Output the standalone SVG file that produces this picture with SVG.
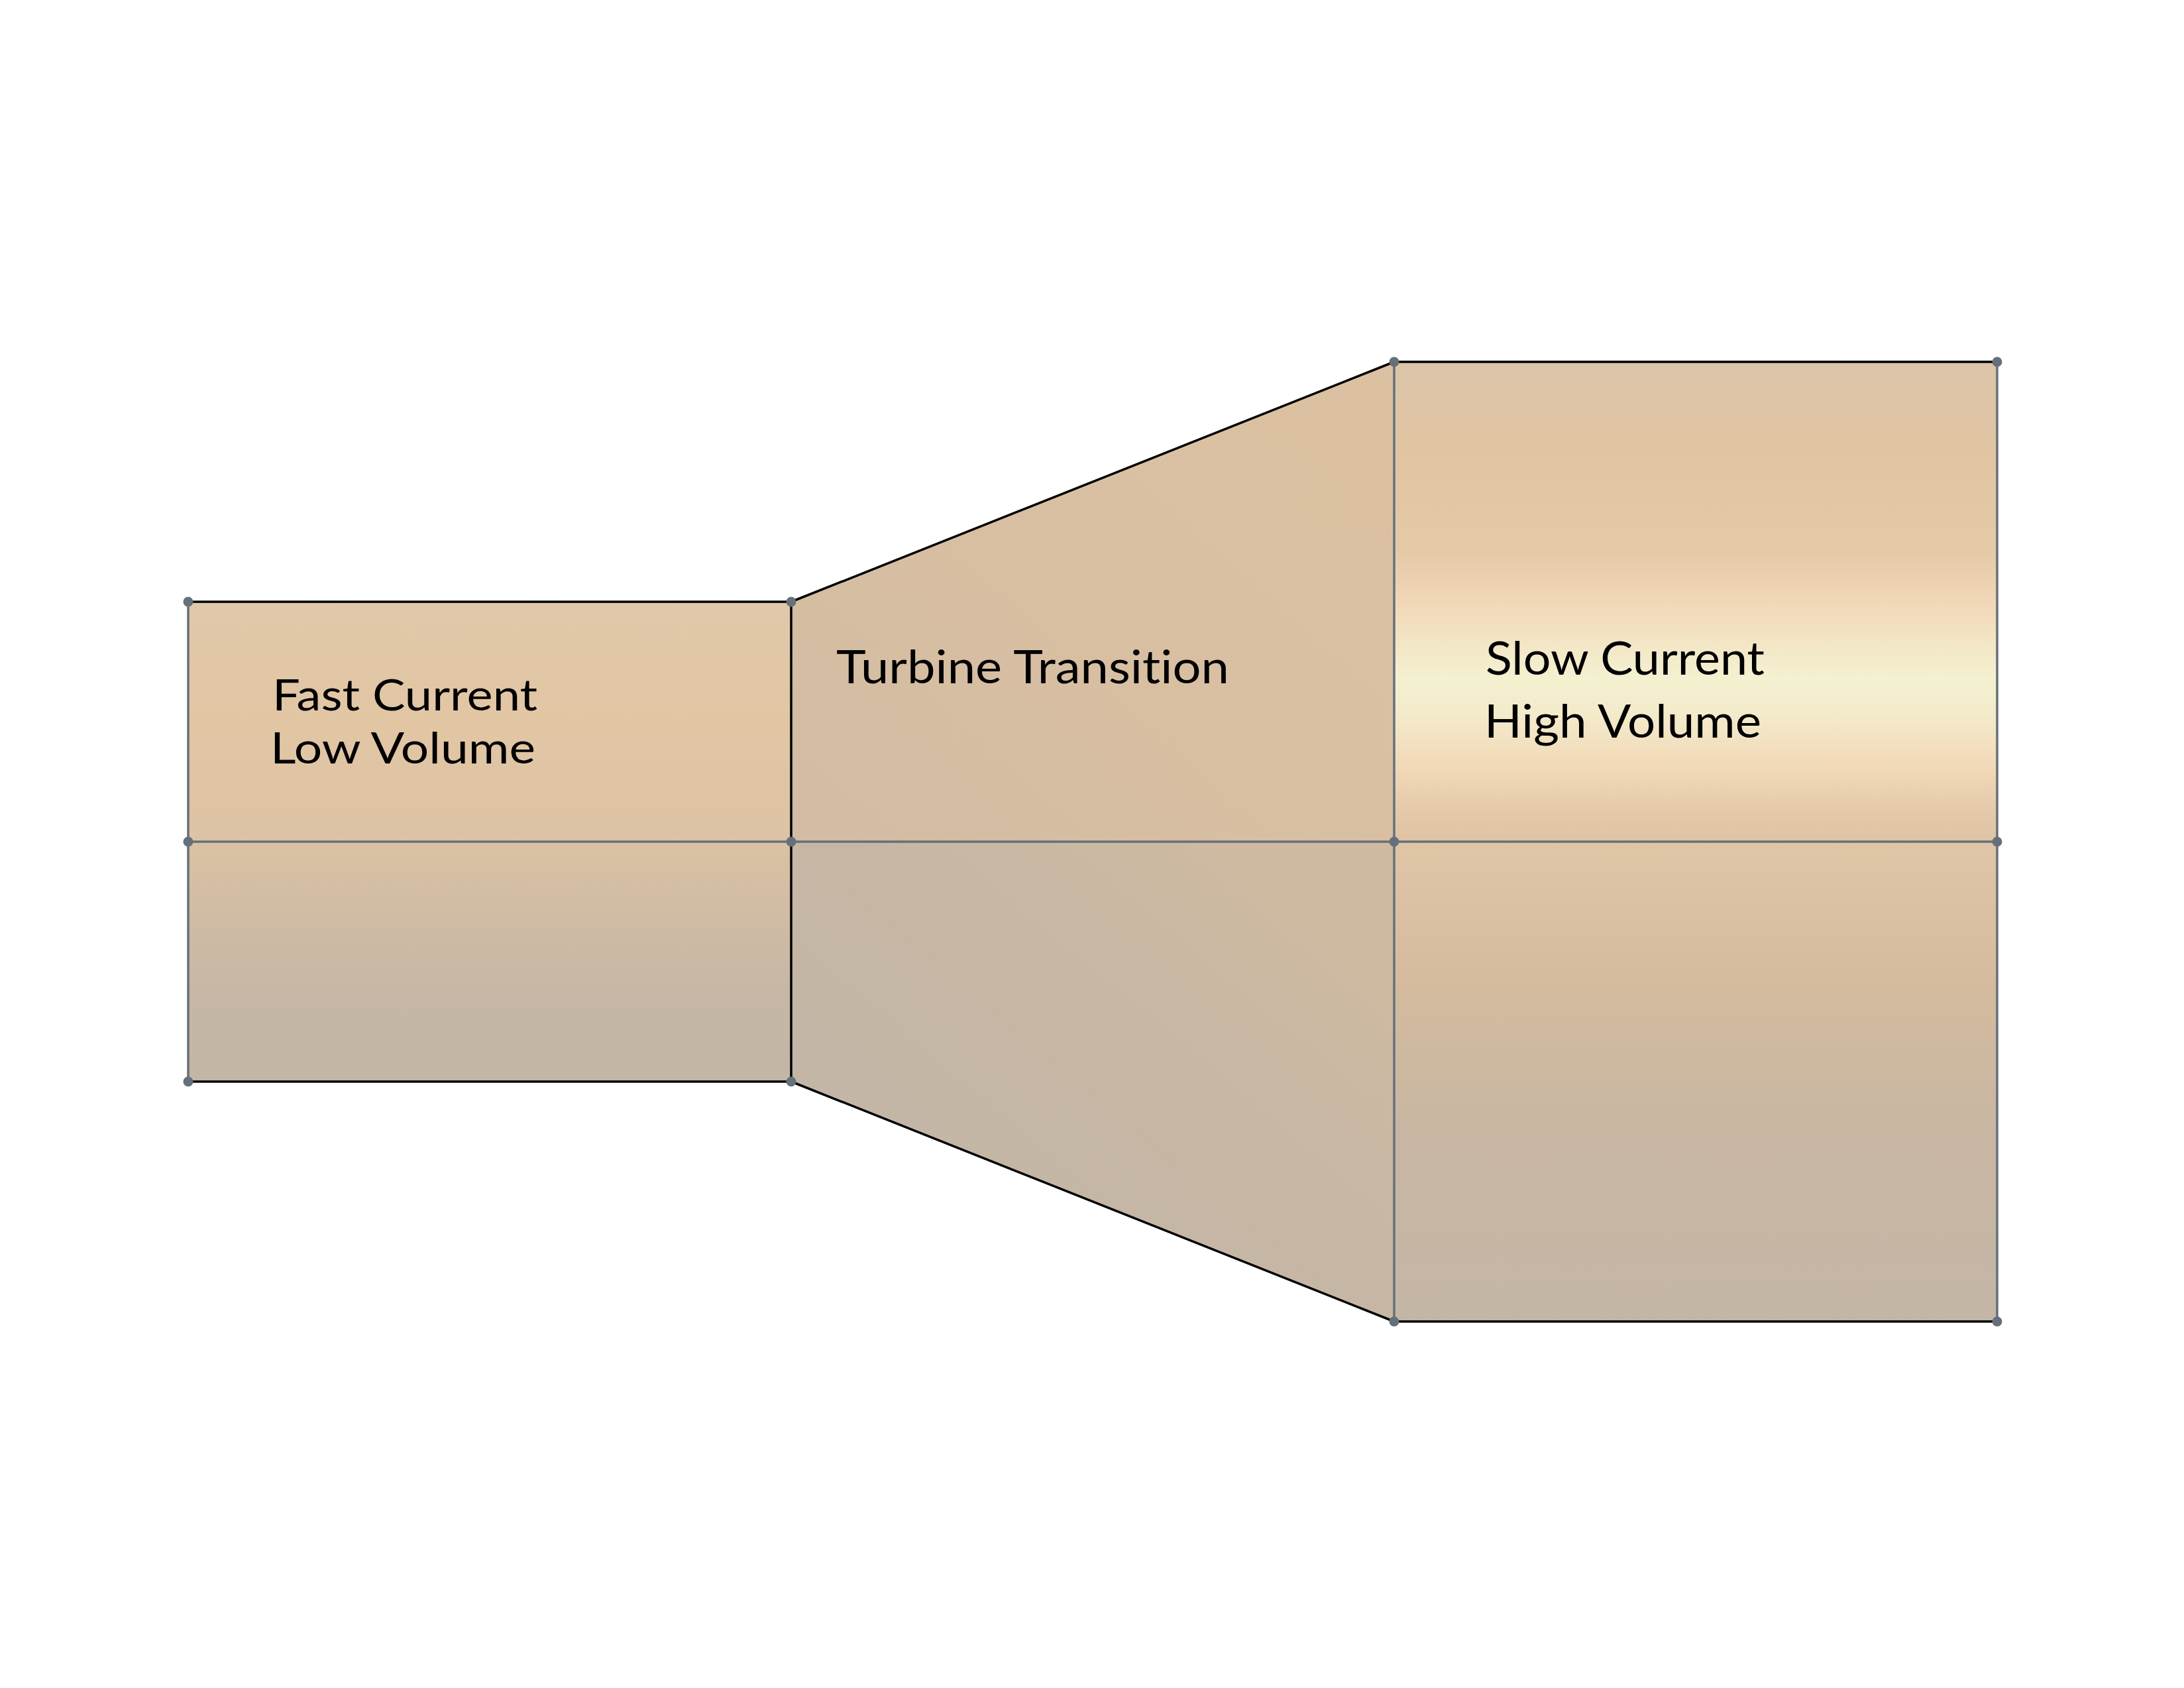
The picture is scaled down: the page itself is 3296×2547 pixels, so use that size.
<svg xmlns="http://www.w3.org/2000/svg" width="3296" height="2547" viewBox="0 0 3296 2547">
<style>
.edge{stroke:#000;stroke-width:3.5;fill:none;stroke-linecap:round}
.grid{stroke:#66707a;stroke-width:3.5;fill:none}
.dot{fill:#66707a}
.lbl{font-family:Lato,"Open Sans","Liberation Sans",sans-serif;font-size:70px;fill:#000;font-variant-ligatures:none}
.tight{font-size:65px}
</style>
<defs>
<linearGradient id="gLT" x1="0" y1="908" x2="0" y2="1270" gradientUnits="userSpaceOnUse">
<stop offset="0" stop-color="#e0c8aa"/><stop offset="0.5" stop-color="#e2c6a4"/><stop offset="1" stop-color="#dcc3a5"/>
</linearGradient>
<linearGradient id="gLB" x1="0" y1="1270" x2="0" y2="1632" gradientUnits="userSpaceOnUse">
<stop offset="0" stop-color="#dac1a3"/><stop offset="0.65" stop-color="#c5b6a5"/><stop offset="1" stop-color="#c4b6a6"/>
</linearGradient>
<linearGradient id="gMT" x1="1300" y1="1270" x2="1900" y2="600" gradientUnits="userSpaceOnUse">
<stop offset="0" stop-color="#d3bca3"/><stop offset="0.5" stop-color="#d8bfa2"/><stop offset="1" stop-color="#dbc1a2"/>
</linearGradient>
<linearGradient id="gMB" x1="1450" y1="1750" x2="1850" y2="1270" gradientUnits="userSpaceOnUse">
<stop offset="0" stop-color="#c4b6a6"/><stop offset="0.55" stop-color="#c7b7a4"/><stop offset="1" stop-color="#cfbaa1"/>
</linearGradient>
<linearGradient id="gRT" x1="0" y1="546" x2="0" y2="1270" gradientUnits="userSpaceOnUse">
<stop offset="0" stop-color="#dbc4a9"/><stop offset="0.2" stop-color="#e1c5a2"/><stop offset="0.4" stop-color="#e5caa8"/>
<stop offset="0.5" stop-color="#f1d7b7"/><stop offset="0.6" stop-color="#f3e8c8"/><stop offset="0.66" stop-color="#f4f1d0"/>
<stop offset="0.74" stop-color="#f3eaca"/><stop offset="0.84" stop-color="#f2d9b8"/><stop offset="0.95" stop-color="#e2c8a8"/>
<stop offset="1" stop-color="#dec4a5"/>
</linearGradient>
<linearGradient id="gRB" x1="0" y1="1270" x2="0" y2="1994" gradientUnits="userSpaceOnUse">
<stop offset="0" stop-color="#dfc6a7"/><stop offset="0.3" stop-color="#d4bb9e"/><stop offset="0.6" stop-color="#c8b6a2"/><stop offset="1" stop-color="#c4b6a6"/>
</linearGradient>
</defs>
<rect x="0" y="0" width="3296" height="2547" fill="#ffffff"/>
<g id="fast-current">
<rect x="284" y="908" width="910" height="362" fill="url(#gLT)"/>
<rect x="284" y="1270" width="910" height="362" fill="url(#gLB)"/>
<text class="lbl tight" x="411" y="1072" textLength="400" lengthAdjust="spacingAndGlyphs">Fast Current</text>
<text class="lbl tight" x="408" y="1152" textLength="400" lengthAdjust="spacingAndGlyphs">Low Volume</text>
</g>
<g id="turbine-transition">
<polygon points="1194,908 2104,546 2104,1270 1194,1270" fill="url(#gMT)"/>
<polygon points="1194,1270 2104,1270 2104,1994 1194,1632" fill="url(#gMB)"/>
<text class="lbl" x="1262" y="1031" textLength="593" lengthAdjust="spacingAndGlyphs">Turbine Transition</text>
</g>
<g id="slow-current">
<rect x="2104" y="546" width="910" height="724" fill="url(#gRT)"/>
<rect x="2104" y="1270" width="910" height="724" fill="url(#gRB)"/>
<text class="lbl" x="2242" y="1018" textLength="421" lengthAdjust="spacingAndGlyphs">Slow Current</text>
<text class="lbl" x="2240" y="1113" textLength="418" lengthAdjust="spacingAndGlyphs">High Volume</text>
</g>
<g id="connectors">
<line class="grid" x1="284" y1="908" x2="284" y2="1632"/>
<line class="grid" x1="284" y1="1270" x2="3014" y2="1270"/>
<line class="grid" x1="2104" y1="546" x2="2104" y2="1994"/>
<line class="grid" x1="3014" y1="546" x2="3014" y2="1994"/>
<line class="edge" x1="284" y1="908" x2="1194" y2="908"/>
<line class="edge" x1="284" y1="1632" x2="1194" y2="1632"/>
<line class="edge" x1="1194" y1="908" x2="1194" y2="1632"/>
<line class="edge" x1="1194" y1="908" x2="2104" y2="546"/>
<line class="edge" x1="1194" y1="1632" x2="2104" y2="1994"/>
<line class="edge" x1="2104" y1="546" x2="3014" y2="546"/>
<line class="edge" x1="2104" y1="1994" x2="3014" y2="1994"/>
<circle class="dot" cx="284" cy="908" r="7.5"/>
<circle class="dot" cx="284" cy="1270" r="7.5"/>
<circle class="dot" cx="284" cy="1632" r="7.5"/>
<circle class="dot" cx="1194" cy="908" r="7.5"/>
<circle class="dot" cx="1194" cy="1270" r="7.5"/>
<circle class="dot" cx="1194" cy="1632" r="7.5"/>
<circle class="dot" cx="2104" cy="546" r="7.5"/>
<circle class="dot" cx="2104" cy="1270" r="7.5"/>
<circle class="dot" cx="2104" cy="1994" r="7.5"/>
<circle class="dot" cx="3014" cy="546" r="7.5"/>
<circle class="dot" cx="3014" cy="1270" r="7.5"/>
<circle class="dot" cx="3014" cy="1994" r="7.5"/>
</g>
</svg>
